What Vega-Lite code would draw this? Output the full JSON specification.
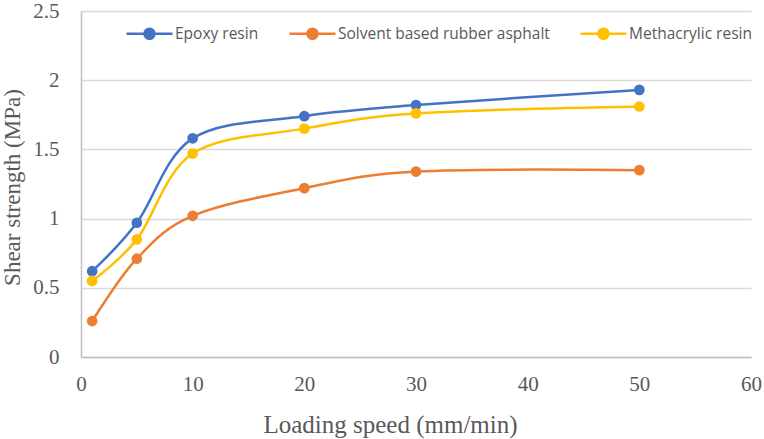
{
  "$schema": "https://vega.github.io/schema/vega-lite/v6.json",
  "width": 670,
  "height": 346,
  "autosize": {"type": "none"},
  "padding": {"left": 81, "top": 11, "right": 13, "bottom": 82},
  "background": "white",
  "data": {
    "values": [
      {"speed": 1, "strength": 0.62, "series": "Epoxy resin"},
      {"speed": 5, "strength": 0.97, "series": "Epoxy resin"},
      {"speed": 10, "strength": 1.58, "series": "Epoxy resin"},
      {"speed": 20, "strength": 1.74, "series": "Epoxy resin"},
      {"speed": 30, "strength": 1.82, "series": "Epoxy resin"},
      {"speed": 50, "strength": 1.93, "series": "Epoxy resin"},
      {"speed": 1, "strength": 0.26, "series": "Solvent based rubber asphalt"},
      {"speed": 5, "strength": 0.71, "series": "Solvent based rubber asphalt"},
      {"speed": 10, "strength": 1.02, "series": "Solvent based rubber asphalt"},
      {"speed": 20, "strength": 1.22, "series": "Solvent based rubber asphalt"},
      {"speed": 30, "strength": 1.34, "series": "Solvent based rubber asphalt"},
      {"speed": 50, "strength": 1.35, "series": "Solvent based rubber asphalt"},
      {"speed": 1, "strength": 0.55, "series": "Methacrylic resin"},
      {"speed": 5, "strength": 0.85, "series": "Methacrylic resin"},
      {"speed": 10, "strength": 1.47, "series": "Methacrylic resin"},
      {"speed": 20, "strength": 1.65, "series": "Methacrylic resin"},
      {"speed": 30, "strength": 1.76, "series": "Methacrylic resin"},
      {"speed": 50, "strength": 1.81, "series": "Methacrylic resin"}
    ]
  },
  "encoding": {
    "x": {
      "field": "speed",
      "type": "quantitative",
      "scale": {"domain": [0, 60], "nice": false, "zero": true},
      "axis": {
        "title": "Loading speed (mm/min)",
        "values": [0, 10, 20, 30, 40, 50, 60],
        "grid": false,
        "ticks": false,
        "domain": true,
        "domainColor": "#bfbfbf",
        "domainWidth": 1.5,
        "labelFont": "Liberation Serif",
        "labelFontSize": 21,
        "labelColor": "#595959",
        "labelPadding": 16,
        "labelFlush": false,
        "titleFont": "Liberation Serif",
        "titleFontSize": 25,
        "titleFontWeight": "normal",
        "titleColor": "#595959",
        "titlePadding": 18,
        "titleX": 309
      }
    },
    "y": {
      "field": "strength",
      "type": "quantitative",
      "scale": {"domain": [0, 2.5], "nice": false},
      "axis": {
        "title": "Shear strength (MPa)",
        "values": [0, 0.5, 1, 1.5, 2, 2.5],
        "format": "~g",
        "grid": true,
        "gridColor": "#d9d9d9",
        "gridWidth": 1.5,
        "ticks": false,
        "domain": true,
        "domainColor": "#bfbfbf",
        "domainWidth": 1.5,
        "labelFont": "Liberation Serif",
        "labelFontSize": 21,
        "labelColor": "#595959",
        "labelPadding": 22,
        "labelFlush": false,
        "titleFont": "Liberation Serif",
        "titleFontSize": 23,
        "titleFontWeight": "normal",
        "titleColor": "#595959",
        "titleX": -57,
        "titleY": 176
      }
    },
    "color": {
      "field": "series",
      "type": "nominal",
      "scale": {
        "domain": ["Epoxy resin", "Solvent based rubber asphalt", "Methacrylic resin"],
        "range": ["#4472c4", "#ed7d31", "#ffc000"]
      },
      "legend": {
        "title": null,
        "orient": "none",
        "direction": "horizontal",
        "legendX": 44,
        "legendY": -2,
        "columnPadding": 25,
        "symbolType": "M-1,0H1M-0.22,0A0.22,0.22 0 1,0 0.22,0A0.22,0.22 0 1,0 -0.22,0Z",
        "symbolSize": 2116,
        "symbolStrokeWidth": 2.5,
        "labelFont": "Open Sans",
        "labelFontSize": 15.5,
        "labelColor": "#595959",
        "labelOffset": 1,
        "labelLimit": 300,
        "encode": {
          "symbols": {
            "update": {
              "fill": {"scale": "color", "field": "value"},
              "stroke": {"scale": "color", "field": "value"},
              "opacity": {"value": 1}
            }
          }
        }
      }
    }
  },
  "layer": [
    {
      "mark": {"type": "line", "interpolate": "cardinal", "strokeWidth": 2.5}
    },
    {
      "mark": {"type": "point", "filled": true, "size": 115, "opacity": 1}
    }
  ],
  "config": {
    "view": {"stroke": null}
  }
}
